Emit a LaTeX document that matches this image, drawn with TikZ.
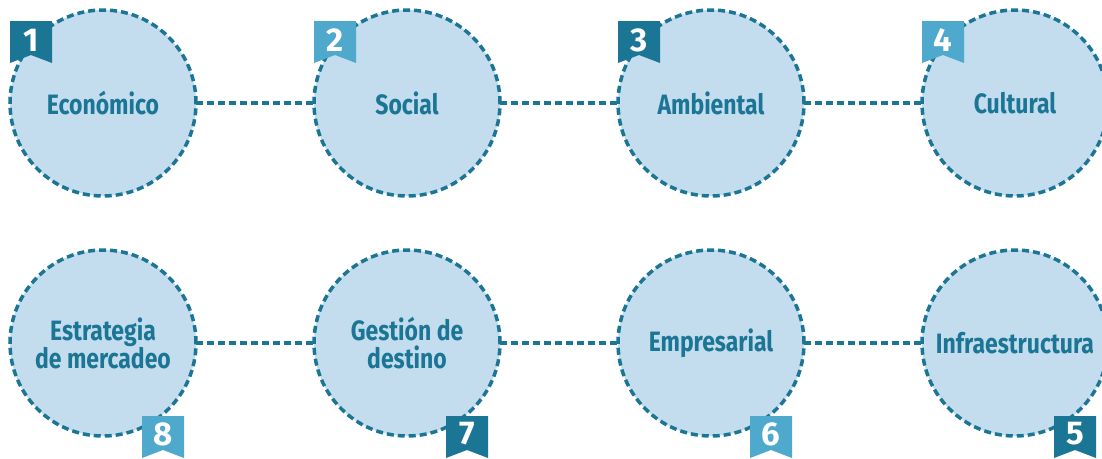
\documentclass[tikz,border=0pt]{standalone}
\usepackage{fontspec}
\setmainfont{Fira Sans}
\newfontfamily\labelfont{Fira Sans}[FakeStretch=0.82]
\usetikzlibrary{positioning}
\definecolor{tealdark}{HTML}{1B7594}
\definecolor{teallight}{HTML}{4FA9CD}
\definecolor{circfill}{HTML}{C3DCEE}

\tikzset{
	dim/.style={circle, draw=tealdark, fill=circfill, line width=3.5pt, dash pattern=on 7pt off 4pt,
		minimum size=186pt, inner sep=0pt, outer sep=0pt, align=center, text=tealdark,
		font=\labelfont\bfseries\fontsize{28}{28}\selectfont},
	link/.style={draw=tealdark, line width=3.5pt, dash pattern=on 7pt off 4pt},
	num/.style={text=white, inner sep=0pt, font=\bfseries\fontsize{33}{33}\selectfont},
}

\newcommand{\topflag}[3]{%
	\fill[#2] ([shift={(-93pt,82pt)}]#1.center) -- ++(42pt,0) -- ++(0,-42pt) -- ++(-21pt,8pt) -- ++(-21pt,-8pt) -- cycle;
	\node[num] (f#3) at ([shift={(-72pt,63pt)}]#1.center) {#3};
}
\newcommand{\botflag}[3]{%
	\fill[#2] ([shift={(39pt,-73pt)}]#1.center) -- ++(42pt,0) -- ++(0,-42pt) -- ++(-21pt,8pt) -- ++(-21pt,-8pt) -- cycle;
	\node[num] (f#3) at ([shift={(60pt,-91pt)}]#1.center) {#3};
}

\begin{document}
\begin{tikzpicture}[node distance=118pt]
		\useasboundingbox (0,0) rectangle (1102pt,-458pt);
		
		\node[dim] (eco) at (103pt,-103pt) {Económico};
		\node[dim, right = of eco] (soc) {Social};
		\node[dim, right = of soc] (amb) {Ambiental};
		\node[dim, right = of amb] (cul) {Cultural};
		
		\node[dim, below = 54pt of eco] (est) {Estrategia\\de mercadeo};
		\node[dim, right = of est] (ges) {Gestión de\\destino};
		\node[dim, right = of ges] (emp) {Empresarial};
		\node[dim, right = of emp] (inf) {Infraestructura};
		
		\draw[link] (eco) -- (soc);
		\draw[link] (soc) -- (amb);
		\draw[link] (amb) -- (cul);
		\draw[link] (est) -- (ges);
		\draw[link] (ges) -- (emp);
		\draw[link] (emp) -- (inf);
		
		\topflag{eco}{tealdark}{1}
		\topflag{soc}{teallight}{2}
		\topflag{amb}{tealdark}{3}
		\topflag{cul}{teallight}{4}
		
		\botflag{inf}{tealdark}{5}
		\botflag{emp}{teallight}{6}
		\botflag{ges}{tealdark}{7}
		\botflag{est}{teallight}{8}
		
	\end{tikzpicture}
\end{document}
